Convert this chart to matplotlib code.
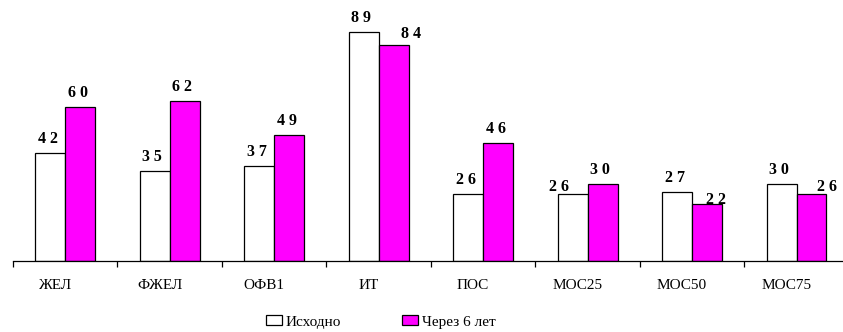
import numpy as np
import matplotlib.pyplot as plt
import matplotlib.transforms as mtransforms
from matplotlib.patches import Patch

# spirometry indices, baseline vs. 6 years later
labels = ['ЖЕЛ', 'ФЖЕЛ', 'ОФВ1', 'ИТ', 'ПОС', 'МОС25', 'МОС50', 'МОС75']
before = [42, 35, 37, 89, 26, 26, 27, 30]
after = [60, 62, 49, 84, 46, 30, 22, 26]
names = ['Исходно', 'Через 6 лет']

# hand-placed labels (series, index) -> shift in pixels, so close ones don't collide
nudge = {(1, 3): (17, -3), (0, 5): (-14, -7), (1, 6): (9, -10), (1, 7): (15, -7)}

plt.rcParams['font.family'] = ['Liberation Serif', 'DejaVu Serif']

fig = plt.figure(figsize=(8.43, 3.32), dpi=100)
ax = fig.add_axes([13/843, 71/332, 830/843, 261/332])

x = np.arange(len(labels))
w = 0.287
b1 = ax.bar(x - w, before, w, align='edge', color='white', edgecolor='black', linewidth=0.9)
b2 = ax.bar(x, after, w, align='edge', color='#ff00ff', edgecolor='black', linewidth=0.9)

# value labels, digits spaced out
for k, (bars, vals) in enumerate([(b1, before), (b2, after)]):
    for i, (r, v) in enumerate(zip(bars, vals)):
        dx, dy = nudge.get((k, i), (-2.5, 0))
        ax.annotate(' '.join(str(v)), (r.get_x() + r.get_width()/2, v),
                    xytext=(dx*0.72, (10 + dy)*0.72), textcoords='offset points',
                    ha='center', va='baseline', fontsize=11.5, fontweight='bold')

ax.set_xlim(-0.5, 7.445)
ax.set_ylim(0, 101.4)

for s in ['top', 'right', 'left']:
    ax.spines[s].set_visible(False)
ax.spines['bottom'].set_linewidth(0.9)
ax.set_yticks([])
ax.set_xticks(np.arange(len(labels)) - 0.5)
ax.set_xticklabels([])
ax.tick_params(axis='x', direction='out', length=4, width=0.9)
ax.set_xticks(x, minor=True)
ax.set_xticklabels(labels, minor=True, fontsize=11)
ax.tick_params(axis='x', which='minor', length=0, pad=13)
shift = mtransforms.ScaledTranslation(-10/100, 0, fig.dpi_scale_trans)
for t in ax.get_xticklabels(minor=True):
    t.set_transform(t.get_transform() + shift)

handles = [Patch(facecolor='white', edgecolor='black', linewidth=0.9),
           Patch(facecolor='#ff00ff', edgecolor='black', linewidth=0.9)]
fig.legend(handles, names, loc='center', bbox_to_anchor=(0.452, 0.03),
           ncol=2, frameon=False, fontsize=11, handlelength=1.05,
           handleheight=0.6, handletextpad=0.25, columnspacing=4.0)

fig.savefig('out.png', dpi=100)
